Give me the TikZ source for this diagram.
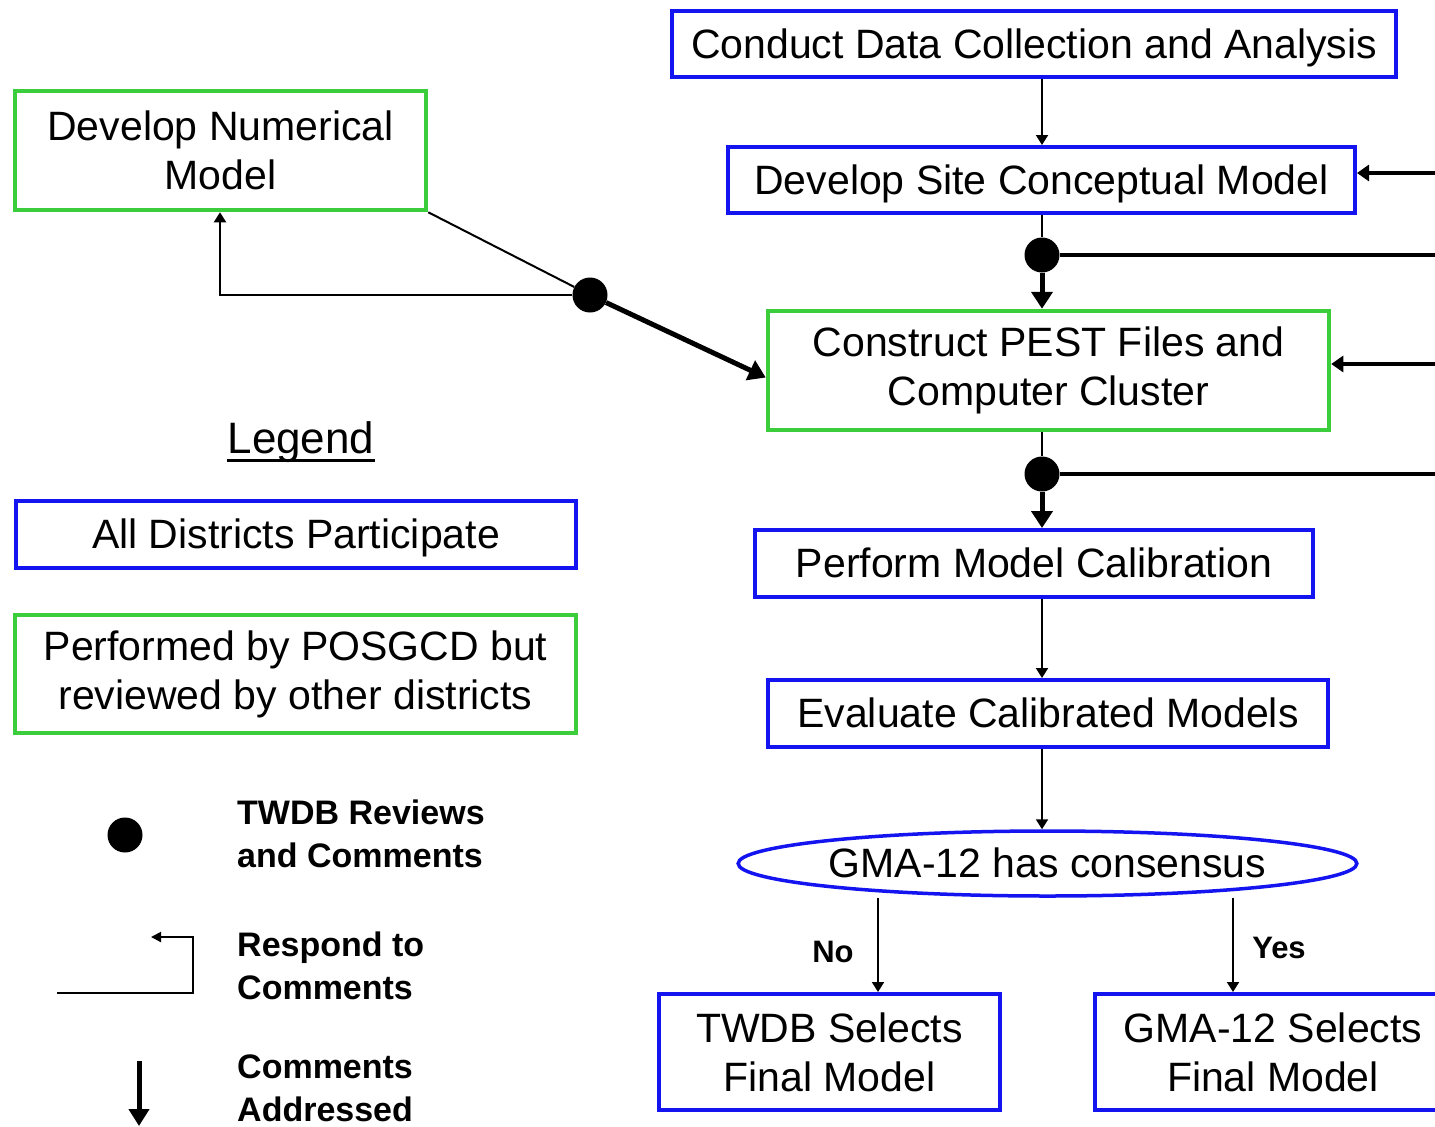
\documentclass[tikz,border=0pt]{standalone}
\usepackage{fontspec}
\setmainfont{Liberation Sans}
\usetikzlibrary{arrows.meta,shapes.geometric,calc}
\definecolor{bblue}{RGB}{20,20,240}
\definecolor{ggreen}{RGB}{60,205,60}
\begin{document}
\begin{tikzpicture}[x=1pt,y=-1pt,
  boxbase/.style={rectangle,inner sep=0pt,align=center,font=\fontsize{41}{49}\selectfont},
  bbox/.style={boxbase,draw=bblue,line width=4pt},
  gbox/.style={boxbase,draw=ggreen,line width=4.5pt},
  oneline/.style={text height=34pt,text depth=6pt},
  thinarr/.style={line width=2pt,-{Triangle[length=10pt,width=12pt]}},
  thickarr/.style={line width=5pt,-{Triangle[length=17pt,width=21pt]}},
  sidearr/.style={line width=4pt,-{Triangle[length=12pt,width=16pt]}},
  plain/.style={line width=2pt},
  hline/.style={line width=4pt},
  revdot/.style={circle,fill=black,minimum size=35pt,inner sep=0pt},
  lbl/.style={font=\fontsize{34}{43}\selectfont\bfseries,align=left,anchor=west,inner sep=0pt},
  yn/.style={font=\fontsize{31}{36}\selectfont\bfseries,inner sep=0pt}]
\clip (0,0) rectangle (1435,1127);
\fill[white] (0,0) rectangle (1435,1127);

% main flow
\node[bbox,oneline,minimum width=724pt,minimum height=66pt] (conduct) at (1034,44) {Conduct Data Collection and Analysis};
\node[gbox,minimum width=411pt,minimum height=119pt] (numer) at (220.5,150.5) {Develop Numerical\\Model};
\node[bbox,oneline,minimum width=627pt,minimum height=66pt] (site) at (1041.5,180) {Develop Site Conceptual Model};
\node[gbox,minimum width=561pt,minimum height=119pt] (pest) at (1048.5,370.5) {Construct PEST Files and\\Computer Cluster};
\node[bbox,oneline,minimum width=558pt,minimum height=67pt] (calib) at (1034,563.5) {Perform Model Calibration};
\node[bbox,oneline,minimum width=560pt,minimum height=67pt] (eval) at (1048,713.5) {Evaluate Calibrated Models};
\node[ellipse,draw=bblue,line width=3.5pt,inner sep=0pt,minimum width=613pt,minimum height=65pt,font=\fontsize{41}{49}\selectfont,oneline] (cons) at (1047.5,863.5) {GMA-12 has consensus};
\node[bbox,minimum width=341pt,minimum height=116pt] (twdb) at (829.5,1052) {TWDB Selects\\Final Model};
\node[bbox,minimum width=356pt,minimum height=116pt] (gma) at (1273,1052) {GMA-12 Selects\\Final Model};

% review dots
\node[revdot] (d0) at (590,295) {};
\node[revdot] (d1) at (1042,255) {};
\node[revdot] (d2) at (1042,474) {};

% helper coordinates
\coordinate (xc) at (1042,0);
\coordinate (xn) at (878,0);
\coordinate (xy) at (1233,0);
\coordinate (e1) at (1435,173);
\coordinate (e2) at (1435,255);
\coordinate (e3) at (1435,364);
\coordinate (e4) at (1435,474);
\coordinate (c0) at (220,295);

% connectors
\draw[thinarr] (conduct.south -| xc) -- (site.north -| xc);
\draw[plain] (site.south -| xc) -- (d1);
\draw[thickarr] (d1) -- (pest.north -| xc);
\draw[hline] (d1) -- (e2);
\draw[sidearr] (e1) -- (site.east |- e1);
\draw[sidearr] (e3) -- (pest.east |- e3);
\draw[plain] (pest.south -| xc) -- (d2);
\draw[thickarr] (d2) -- (calib.north -| xc);
\draw[hline] (d2) -- (e4);
\draw[thinarr] (calib.south -| xc) -- (eval.north -| xc);
\draw[thinarr] (eval.south -| xc) -- (cons.north -| xc);
\draw[thinarr] (cons.south -| xn) -- (twdb.north -| xn);
\draw[thinarr] (cons.south -| xy) -- (gma.north -| xy);
\node[yn] (no) at (833,952) {No};
\node[yn] (yes) at (1279,948) {Yes};

% numerical model loop
\draw[plain] (numer.south east) -- (d0);
\draw[thickarr] (d0) -- ([yshift=-7pt]pest.west);
\draw[plain,-{Triangle[length=10pt,width=12pt]}] (d0) -- (c0) -- (numer.south -| c0);

% legend
\node[font=\fontsize{44}{50}\selectfont,inner sep=0pt] (legend) at (301,442) {Legend};
\draw[line width=2.5pt] ($(legend.base west)+(0,7)$) -- ($(legend.base east)+(0,7)$);
\node[bbox,oneline,minimum width=560pt,minimum height=67pt] (all) at (296,534.5) {All Districts Participate};
\node[gbox,minimum width=561pt,minimum height=118pt] (perf) at (295.5,674) {Performed by POSGCD but\\reviewed by other districts};

\node[revdot] (ldot) at (125,835) {};
\node[lbl] (l1) at (237,834) {TWDB Reviews\\and Comments};
\coordinate (r0) at (57,993);
\coordinate (r1) at (193,993);
\coordinate (r2) at (193,937);
\coordinate (r3) at (151,937);
\draw[line width=2pt,-{Triangle[length=10pt,width=10pt]}] (r0) -- (r1) -- (r2) -- (r3);
\node[lbl] (l2) at (237,966) {Respond to\\Comments};
\coordinate (a0) at (139,1061);
\coordinate (a1) at (139,1126);
\draw[line width=5pt,-{Triangle[length=17pt,width=20pt]}] (a0) -- (a1);
\node[lbl] (l3) at (237,1088) {Comments\\Addressed};
\end{tikzpicture}
\end{document}
